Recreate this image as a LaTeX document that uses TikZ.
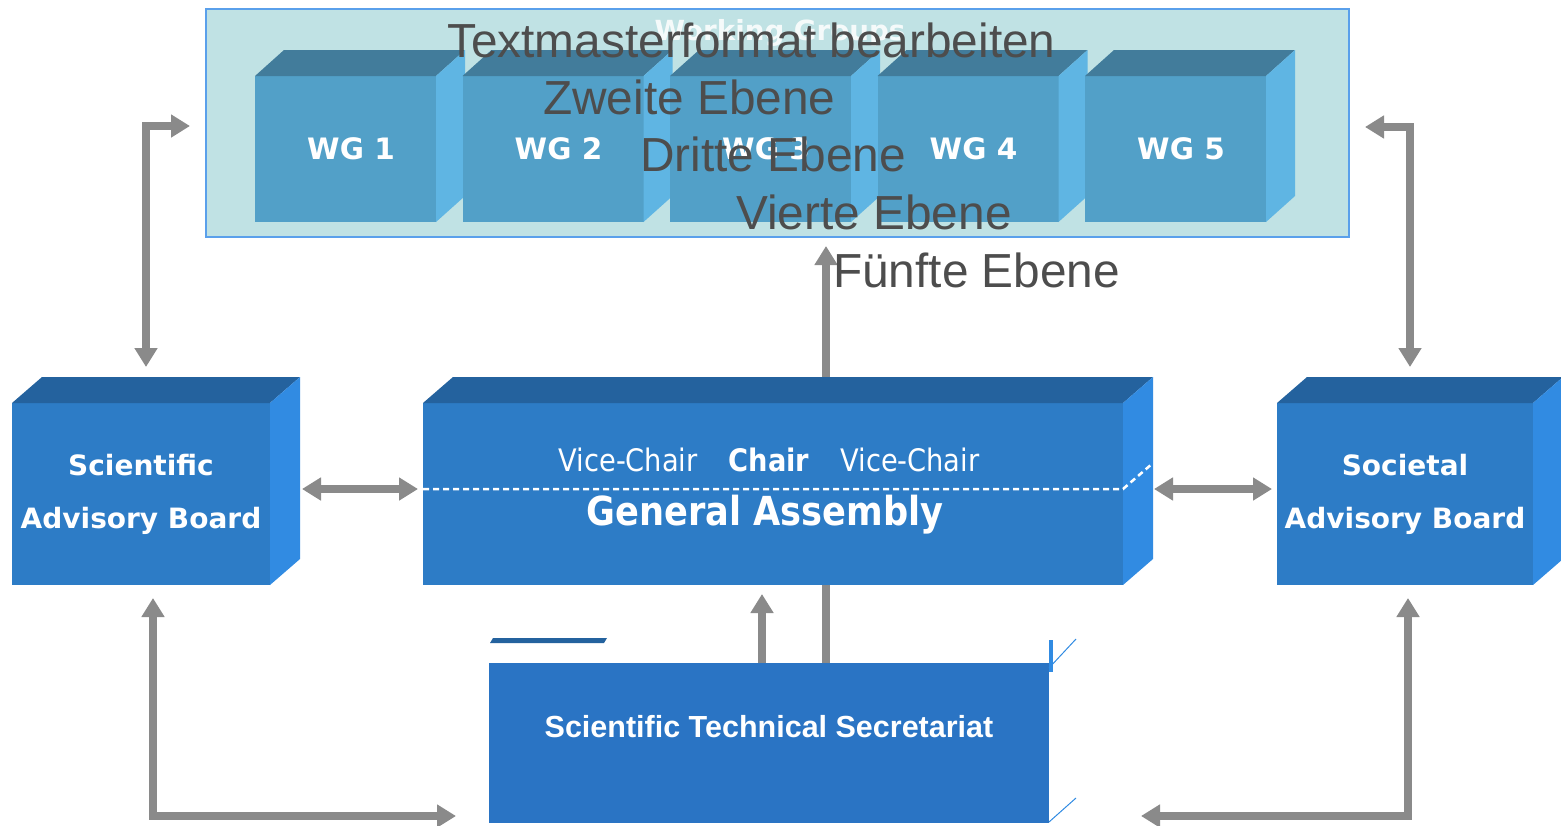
\documentclass[tikz,border=0pt]{standalone}
\usepackage{fontspec}
\usetikzlibrary{arrows.meta,calc}
\newfontfamily\dvs{DejaVu Sans}
\newfontfamily\dvc[FakeStretch=0.88]{DejaVu Sans}
\newfontfamily\lbs{Liberation Sans}
\definecolor{wgbg}{RGB}{192,226,228}
\definecolor{wgborder}{RGB}{90,160,235}
\definecolor{wgfront}{RGB}{82,160,200}
\definecolor{wgtop}{RGB}{66,124,155}
\definecolor{wgside}{RGB}{95,181,227}
\definecolor{bfront}{RGB}{45,124,198}
\definecolor{btop}{RGB}{36,98,158}
\definecolor{bside}{RGB}{49,139,226}
\definecolor{sfront}{RGB}{42,116,196}
\definecolor{agray}{RGB}{138,138,138}
\definecolor{mtext}{RGB}{77,77,77}
\newcommand\mycube[5]{%
  \fill[#2] (#1.north west) -- ++(#4,-#5) -- ($(#1.north east)+(#4,-#5)$) -- (#1.north east) -- cycle;
  \fill[#3] (#1.north east) -- ++(#4,-#5) -- ($(#1.south east)+(#4,-#5)$) -- (#1.south east) -- cycle;
}
\tikzset{
  wgbox/.style={fill=wgfront, inner sep=0, outer sep=0, minimum width=181, minimum height=146,
    anchor=north west, text=white, font=\dvs\bfseries\fontsize{29.5}{32}\selectfont},
  bigbox/.style={fill=bfront, inner sep=0, outer sep=0, minimum height=182, anchor=north west,
    text=white, align=center, font=\dvs\bfseries\fontsize{28}{53}\selectfont},
  mt/.style={font=\lbs\fontsize{47.8}{50}\selectfont, text=mtext, inner sep=0, anchor=base west},
  conn/.style={draw=agray, line width=8, line join=miter},
  sconn/.style={conn, arrows={-Triangle[width=22pt,length=19pt]}},
  dconn/.style={conn, arrows={Triangle[width=22pt,length=19pt]-Triangle[width=22pt,length=19pt]}},
}
\begin{document}
\begin{tikzpicture}[x=1pt,y=-1pt]
\useasboundingbox (0,0) rectangle (1561,825);

% Working groups container
\node[draw=wgborder, line width=1.5, fill=wgbg, minimum width=1143, minimum height=228,
      inner sep=0, anchor=north west] (wgc) at (205,8) {};
\node[font=\dvs\bfseries\fontsize{27.7}{30}\selectfont, text=white, opacity=0.85, anchor=base, inner sep=0]
      (wgt) at (780,40) {Working Groups};

\foreach \i/\x in {1/255,2/462.5,3/670,4/877.5,5/1085} {
  \node[wgbox] (wg\i) at (\x,76) {\hspace*{11pt}WG \i};
  \mycube{wg\i}{wgtop}{wgside}{29}{26}
}

% arrows
\coordinate (l1) at (146,367); \coordinate (l2) at (190,126);
\draw[dconn] (l1) |- (l2);
\coordinate (r1) at (1410,367); \coordinate (r2) at (1365,127);
\draw[dconn] (r1) |- (r2);
\coordinate (gu1) at (826,377); \coordinate (gu2) at (826,246);
\draw[sconn] (gu1) -- (gu2);
\coordinate (h1) at (302,489); \coordinate (h2) at (418,489);
\draw[dconn] (h1) -- (h2);
\coordinate (h3) at (1154,489); \coordinate (h4) at (1272,489);
\draw[dconn] (h3) -- (h4);
\coordinate (s1) at (762,663); \coordinate (s2) at (762,594);
\draw[sconn] (s1) -- (s2);
\coordinate (s3) at (826,585); \coordinate (s4) at (826,663);
\draw[conn] (s3) -- (s4);
\coordinate (b1) at (153,598); \coordinate (b2) at (456,816);
\draw[dconn] (b1) |- (b2);
\coordinate (b3) at (1408,598); \coordinate (b4) at (1141,816);
\draw[dconn] (b3) |- (b4);

% big boxes
\node[bigbox, minimum width=258] (sab) at (12,403) {Scientific\\Advisory Board};
\mycube{sab}{btop}{bside}{30}{26}
\node[bigbox, minimum width=700] (ga) at (423,403) {};
\mycube{ga}{btop}{bside}{30}{26}
\node[bigbox, minimum width=256] (soc) at (1277,403) {Societal\\Advisory Board};
\mycube{soc}{btop}{bside}{30}{26}

\draw[white, line width=2.5, dash pattern=on 6 off 4] (423,489) -- (1123,489) -- (1153,463);
\node[font=\dvc\fontsize{31}{34}\selectfont, text=white, anchor=base, inner sep=0] (chairs) at (769,471)
  {Vice-Chair\hspace{31pt}\textbf{Chair}\hspace{31pt}Vice-Chair};
\node[font=\dvc\bfseries\fontsize{40}{44}\selectfont, text=white, anchor=base, inner sep=0] (gat) at (765,525)
  {General Assembly};

% secretariat
\node[fill=sfront, inner sep=0, outer sep=0, minimum width=560, minimum height=160, anchor=north west] (sts) at (489,663) {};
\fill[btop] (490,643) -- (493,638) -- (607,638) -- (604,643) -- cycle;
\fill[bside] (1049,640) rectangle (1053,672);
\draw[bside, line width=1] (1049,668) -- (1076,639);
\draw[bside, line width=1] (1049,822) -- (1076,798);
\node[font=\lbs\bfseries\fontsize{30.5}{32}\selectfont, text=white, anchor=base, inner sep=0] (stst) at (769,737)
  {Scientific Technical Secretariat};

% master text overlay
\node[mt] (m1) at (447,57) {Textmasterformat bearbeiten};
\node[mt] (m2) at (543,114) {Zweite Ebene};
\node[mt] (m3) at (640,171) {Dritte Ebene};
\node[mt] (m4) at (736,229) {Vierte Ebene};
\node[mt] (m5) at (833,287) {Fünfte Ebene};
\end{tikzpicture}
\end{document}
